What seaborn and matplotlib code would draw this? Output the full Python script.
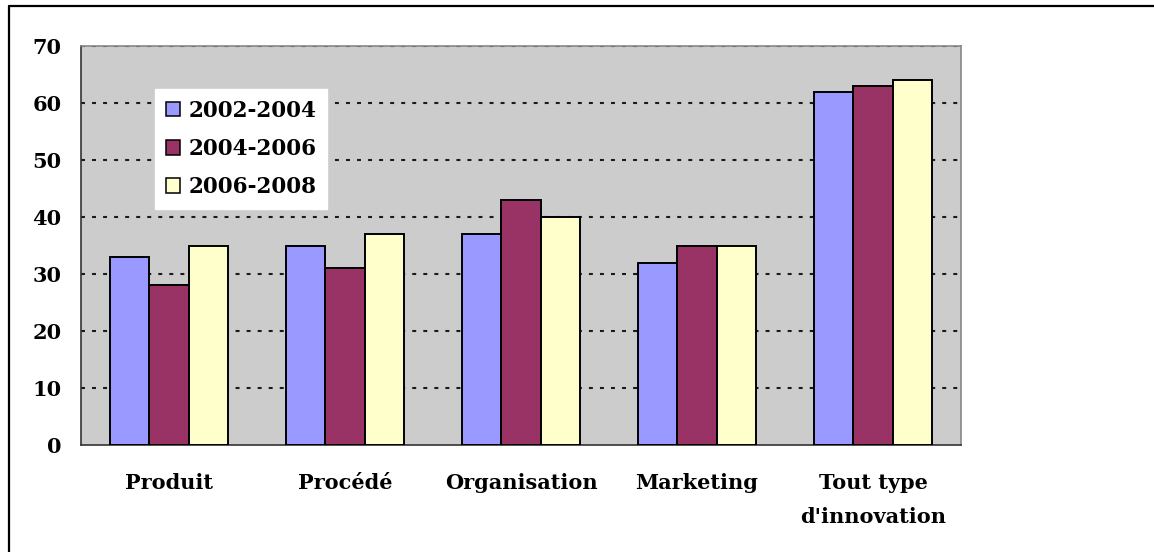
import pandas as pd
import seaborn as sns
import matplotlib.pyplot as plt
from matplotlib.patches import Patch
from matplotlib.lines import Line2D

categories = ["Produit", "Procédé", "Organisation", "Marketing", "Tout type\nd'innovation"]
periods = ["2002-2004", "2004-2006", "2006-2008"]
vals_0204 = [33, 35, 37, 32, 62]
vals_0406 = [28, 31, 43, 35, 63]
vals_0608 = [35, 37, 40, 35, 64]
colors = ["#9999FF", "#993366", "#FFFFCC"]
yticks = [0, 10, 20, 30, 40, 50, 60, 70]

rows = []
for per, vals in zip(periods, [vals_0204, vals_0406, vals_0608]):
    for c, v in zip(categories, vals):
        rows.append({"cat": c, "period": per, "value": v})
df = pd.DataFrame(rows)

sns.set_style("white")
plt.rcParams["font.family"] = ["DejaVu Serif"]
plt.rcParams["font.weight"] = "bold"
plt.rcParams["text.color"] = "black"
plt.rcParams["xtick.color"] = "black"
plt.rcParams["ytick.color"] = "black"

fig = plt.figure(figsize=(11.54, 5.52), dpi=100)
ax = fig.add_axes([81 / 1154, 1 - 445 / 552, 880 / 1154, 399 / 552])

sns.barplot(data=df, x="cat", y="value", hue="period", palette=colors,
            width=0.67, gap=0, edgecolor="black", linewidth=1.4,
            saturation=1, legend=False, ax=ax, zorder=3)

ax.set_facecolor("#CCCCCC")
ax.set_xlim(-0.5, len(categories) - 0.5)
ax.set_ylim(0, 70)
ax.set_yticks(yticks)
ax.set_yticklabels([str(t) for t in yticks], fontsize=15, fontweight="bold")
for t in yticks[1:]:
    ax.axhline(t, color="#1a1a1a", lw=1.5, ls=(0, (1.9, 3.4)), zorder=1)

ax.set_xticks(range(len(categories)))
ax.set_xticklabels(categories, fontsize=15, fontweight="bold", linespacing=1.88)
ax.set_xticks([i - 0.5 for i in range(len(categories) + 1)], minor=True)
ax.tick_params(axis="x", which="major", length=0, pad=20)
ax.tick_params(axis="x", which="minor", length=6, width=1, color="#333333", direction="out")
ax.tick_params(axis="y", length=6, width=1, color="#333333", direction="out", pad=8)
ax.set_xlabel("")
ax.set_ylabel("")

for side in ["left", "bottom"]:
    ax.spines[side].set_color("#333333")
    ax.spines[side].set_linewidth(1.2)
for side in ["top", "right"]:
    ax.spines[side].set_color("#888888")
    ax.spines[side].set_linewidth(1.2)

handles = [Patch(facecolor=c, edgecolor="black", linewidth=1.1, label=p)
           for c, p in zip(colors, periods)]
leg = ax.legend(handles=handles, loc="upper left", bbox_to_anchor=(0.084, 0.892),
                borderaxespad=0, frameon=True, fancybox=False, framealpha=1,
                handlelength=0.65, handleheight=0.65, handletextpad=0.4,
                labelspacing=0.75, borderpad=0.5,
                prop={"size": 15.5, "weight": "bold", "family": "DejaVu Serif"})
leg.get_frame().set_edgecolor("white")
leg.get_frame().set_facecolor("white")
leg.set_zorder(5)

# outer frame (only top and left edges visible)
fig.add_artist(Line2D([9 / 1154, 9 / 1154], [0, 1 - 6 / 552], color="black", lw=1.6,
                      transform=fig.transFigure))
fig.add_artist(Line2D([9 / 1154, 1], [1 - 6 / 552, 1 - 6 / 552], color="black", lw=1.6,
                      transform=fig.transFigure))

plt.savefig("out.png", dpi=100)
plt.close()
